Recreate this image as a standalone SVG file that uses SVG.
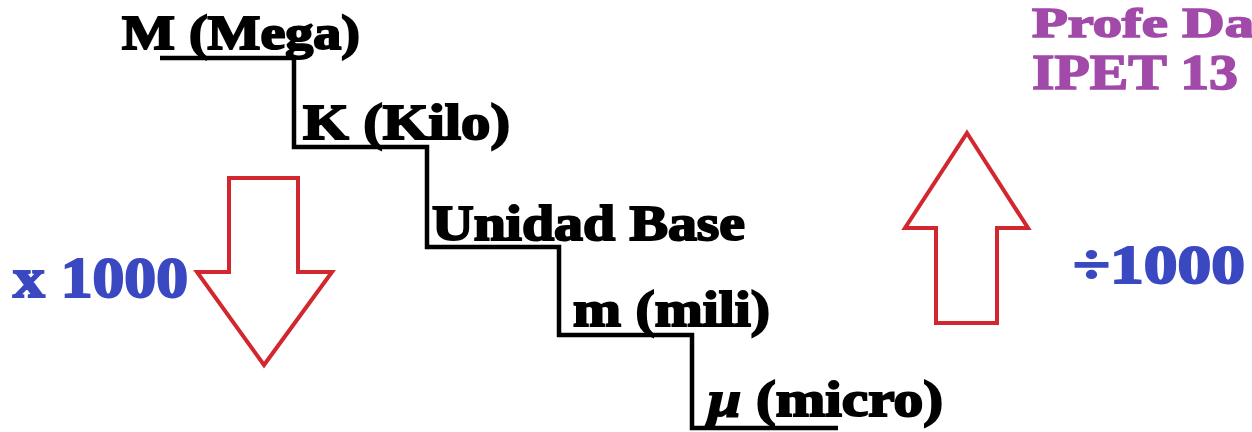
<svg xmlns="http://www.w3.org/2000/svg" width="1252" height="432" viewBox="0 0 1252 432">
<style>
.lbl{font-family:"Liberation Serif","DejaVu Serif",serif;font-weight:bold;fill:#000;stroke:#000;stroke-width:2}
.blue{font-family:"Liberation Serif","DejaVu Serif",serif;font-weight:bold;fill:#3a48c2;stroke:#3a48c2;stroke-width:2}
.purple{font-family:"Liberation Serif","DejaVu Serif",serif;font-weight:bold;fill:#a14aa9;stroke:#a14aa9;stroke-width:1.6}
.stair{fill:none;stroke:#000;stroke-width:4.5;stroke-linejoin:miter}
.arrow{fill:none;stroke:#d2272e;stroke-width:4;stroke-linejoin:miter}
</style>
<rect width="1252" height="432" fill="#fff"/>
<g id="connectors">
<polyline class="stair" points="160,58 294,58 294,147 427,147 427,247 559,247 559,335 692,335 692,428 838,428"/>
</g>
<g id="mega"><text class="lbl" x="122" y="49" font-size="48" textLength="238" lengthAdjust="spacingAndGlyphs">M (Mega)</text></g>
<g id="kilo"><text class="lbl" x="303" y="139" font-size="50" textLength="207" lengthAdjust="spacingAndGlyphs">K (Kilo)</text></g>
<g id="base"><text class="lbl" x="432" y="240" font-size="50" textLength="313" lengthAdjust="spacingAndGlyphs">Unidad Base</text></g>
<g id="mili"><text class="lbl" x="573" y="326" font-size="50" textLength="197" lengthAdjust="spacingAndGlyphs">m (mili)</text></g>
<g id="micro"><text class="lbl" x="708" y="416" font-size="50" textLength="235" lengthAdjust="spacingAndGlyphs"><tspan font-style="italic">μ</tspan> (micro)</text></g>
<g id="down-arrow"><polygon class="arrow" points="229,178 298,178 298,272 332,272 264,365 197,272 229,272"/></g>
<g id="up-arrow"><polygon class="arrow" points="967,133 1028,228 997,228 997,323 936,323 936,228 905,228"/></g>
<g id="times"><text class="blue" x="13" y="297" font-size="56" textLength="175" lengthAdjust="spacingAndGlyphs">x 1000</text></g>
<g id="divide"><text class="blue" x="1073" y="283" font-size="54" textLength="172" lengthAdjust="spacingAndGlyphs">÷1000</text></g>
<g id="author">
<text class="purple" x="1032" y="37" font-size="42" textLength="222" lengthAdjust="spacingAndGlyphs">Profe Da</text>
<text class="purple" x="1032" y="89" font-size="50" textLength="206" lengthAdjust="spacingAndGlyphs">IPET 13</text>
</g>
</svg>
